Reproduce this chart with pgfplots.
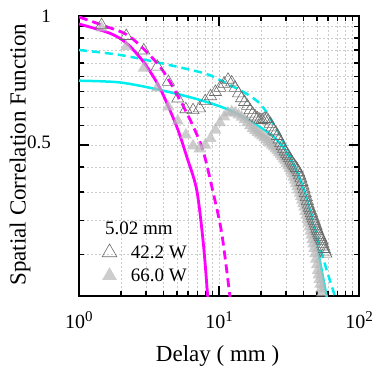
\documentclass[border=0pt]{standalone}
\usepackage{fontspec}
\setmainfont{Liberation Serif}
\usepackage{pgfplots}
\usepackage{pgfplotstable}
\pgfplotsset{compat=1.18}
\definecolor{mycyan}{HTML}{00EEEE}
\definecolor{mymag}{HTML}{FF00FF}
\definecolor{fillgray}{HTML}{B8B8B8}
\pgfplotstableread{
x open filled
1.45 0.952 0.938
2.175 0.898 0.848
2.9 0.831 0.756
3.625 0.762 0.680
4.35 0.702 0.614
5.075 0.642 0.569
5.8 0.606 0.528
6.525 0.603 0.498
7.25 0.609 0.490
7.975 0.633 0.500
8.7 0.650 0.518
9.425 0.665 0.542
10.15 0.680 0.564
10.875 0.695 0.582
11.6 0.710 0.594
12.325 0.700 0.598
13.05 0.680 0.594
13.775 0.660 0.588
14.5 0.643 0.581
15.225 0.630 0.573
15.95 0.617 0.564
16.675 0.603 0.555
17.4 0.592 0.547
18.125 0.583 0.541
18.85 0.577 0.535
19.575 0.573 0.530
20.3 0.572 0.525
21.025 0.575 0.520
21.75 0.575 0.515
22.475 0.570 0.510
23.2 0.560 0.505
23.925 0.550 0.500
24.65 0.540 0.495
25.375 0.535 0.490
26.1 0.525 0.485
26.825 0.515 0.480
27.55 0.505 0.475
28.275 0.497 0.470
29.0 0.490 0.464
29.725 0.483 0.459
30.45 0.477 0.453
31.175 0.472 0.447
31.9 0.466 0.441
32.625 0.460 0.435
33.35 0.455 0.428
34.075 0.450 0.421
34.8 0.446 0.414
35.525 0.442 0.407
36.25 0.438 0.400
36.975 0.432 0.393
37.7 0.425 0.386
38.425 0.418 0.379
39.15 0.410 0.372
39.875 0.402 0.365
40.6 0.394 0.358
41.325 0.386 0.350
42.05 0.378 0.343
42.775 0.370 0.336
43.5 0.363 0.329
44.225 0.357 0.322
44.95 0.352 0.315
45.675 0.347 0.308
46.4 0.342 0.301
47.125 0.337 0.294
47.85 0.333 0.287
48.575 0.328 0.279
49.3 0.324 0.271
50.025 0.319 0.263
50.75 0.315 0.255
51.475 0.311 0.249
52.2 0.308 0.243
52.925 0.305 0.237
53.65 0.302 0.231
54.375 0.299 0.226
55.1 0.294 0.221
55.825 0.290 0.216
56.55 0.286 0.211
57.275 0.282 0.206
58.0 0.279 0.201
}\corrdata
\begin{document}
\begin{tikzpicture}
\begin{axis}[
  scale only axis, width=280pt, height=280pt,
  xmode=log, ymode=log,
  xmin=1, xmax=100, ymin=0.22222, ymax=1,
  xtick={1,10,100},
  xticklabels={10\raisebox{6.5pt}{\fontsize{15}{15}\selectfont 0},10\raisebox{6.5pt}{\fontsize{15}{15}\selectfont 1},10\raisebox{6.5pt}{\fontsize{15}{15}\selectfont 2}},
  minor xtick={2,3,4,5,6,7,8,9,20,30,40,50,60,70,80,90},
  ytick={0.5,1}, yticklabels={\raisebox{6pt}{0.5},1},
  minor ytick={0.27778,0.33333,0.38889,0.44444,0.55556,0.61111,0.66667,0.72222,0.77778,0.83333,0.88889,0.94444},
  tick align=inside, xtick pos=both, ytick pos=both,
  major tick length=10pt, minor tick length=5pt,
  tick style={black, line width=1.5pt},
  axis line style={line width=1.8pt},
  grid=both,
  major grid style={gray!40, dash pattern=on 2pt off 2pt, line width=0.5pt},
  minor grid style={gray!40, dash pattern=on 2pt off 2pt, line width=0.5pt},
  xticklabel style={font=\fontsize{20}{20}\selectfont, anchor=base, inner sep=0pt, yshift=-32pt},
  yticklabel style={font=\fontsize{19}{19}\selectfont, anchor=east, inner sep=0pt, xshift=-28pt},
  xlabel={Delay ( mm )}, ylabel={Spatial Correlation Function},
  every axis x label/.style={at={(axis description cs:0.495,-0.2346)}, anchor=base, font=\fontsize{23}{23}\selectfont},
  every axis y label/.style={at={(axis description cs:-0.2107,0.505)}, anchor=center, rotate=90, font=\fontsize{23}{23}\selectfont},
  legend style={at={(axis description cs:0.082,0.114)}, anchor=west, draw=none, fill=none, inner sep=0pt,
    font=\fontsize{19}{19}\selectfont, row sep=5pt,
    /tikz/every odd column/.append style={column sep=12pt}},
  legend cell align=left,
  reverse legend,
]
\addplot[only marks, mark=triangle*, mark size=7pt, draw=none, fill=fillgray,
  mark options={draw=none, fill=fillgray, fill opacity=0.7, draw opacity=0},
  legend image post style={mark size=8.5pt, draw=none, fill=fillgray, fill opacity=1}] table[x=x, y=filled] {\corrdata};
\addlegendentry{66.0 W}
\addplot[only marks, mark=triangle, mark size=7pt, color=black!58,
  mark options={draw=black!58, fill=none, line width=0.6pt},
  legend image post style={mark size=8.5pt}] table[x=x, y=open] {\corrdata};
\addlegendentry{42.2 W}
% fits
\addplot[forget plot, mycyan, line width=2.5pt, smooth] coordinates {
(1,0.7065) (1.963,0.6998) (3.790,0.6722) (7.315,0.6370) (12.59,0.5982) (21.91,0.5375) (28.65,0.4950) (36.07,0.4329) (42.53,0.3725) (47.71,0.3170) (52.65,0.2671) (58.8,0.2216) (60.5,0.210)};
\addplot[forget plot, mycyan, line width=2.5pt, dash pattern=on 8pt off 5pt, smooth] coordinates {
(1,0.8330) (1.963,0.8112) (3.790,0.7772) (7.686,0.7366) (10.16,0.7092) (16.65,0.6510) (21.31,0.6037) (30.45,0.4924) (37.90,0.4147) (44.67,0.3530) (50.95,0.3005) (58.1,0.2585) (67.4,0.2216) (69.5,0.212)};
\addplot[forget plot, mymag, line width=2.8pt, smooth] coordinates {
(1,0.958) (1.665,0.9113) (2.191,0.8637) (2.879,0.7823) (3.790,0.6784) (4.988,0.5521) (5.880,0.4699) (6.930,0.3930) (7.725,0.2953) (8.306,0.2216) (8.45,0.205)};
\addplot[forget plot, mymag, line width=2.8pt, dash pattern=on 9pt off 5pt, smooth] coordinates {
(1,0.9947) (1.521,0.9478) (2.313,0.8948) (3.790,0.7617) (5.266,0.6370) (6.553,0.5521) (7.725,0.4828) (9.106,0.3861) (10.45,0.3119) (11.98,0.2216) (12.3,0.205)};
\node[anchor=base west, inner sep=0pt, font=\fontsize{19}{19}\selectfont] at (axis description cs:0.0929,0.2179) {5.02 mm};
\end{axis}
\pgfresetboundingbox
\path ([shift={(-79pt,-74pt)}]current axis.south west) rectangle ([shift={(18pt,16pt)}]current axis.north east);
\end{tikzpicture}
\end{document}
